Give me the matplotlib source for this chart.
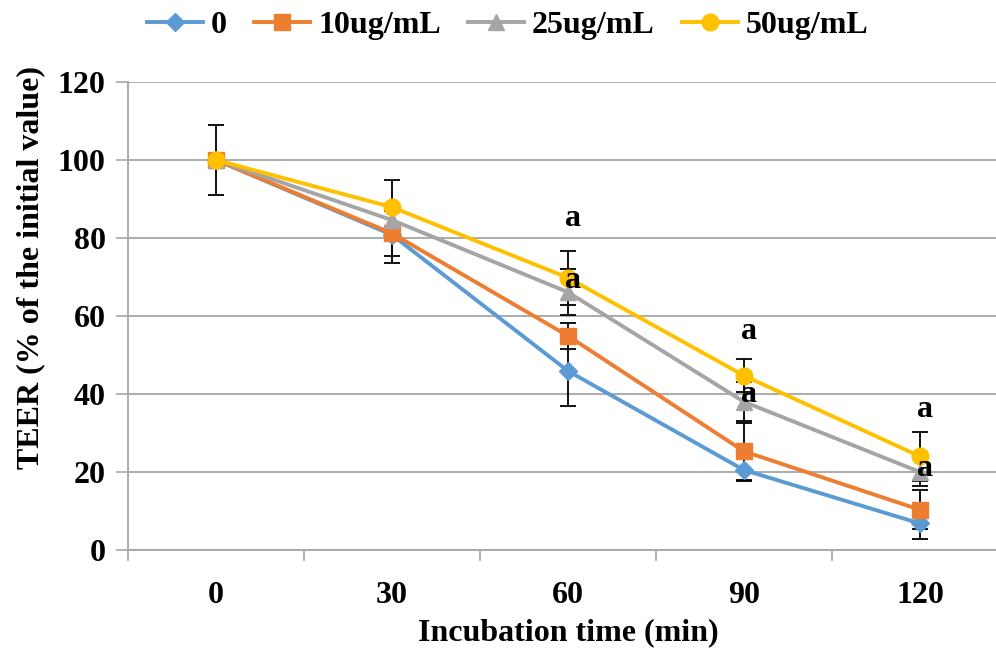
import numpy as np
import matplotlib
matplotlib.use("Agg")
import matplotlib.pyplot as plt

plt.rcParams['font.family'] = ['Liberation Serif', 'DejaVu Serif']
plt.rcParams['font.weight'] = 'bold'

times = ['0', '30', '60', '90', '120']
labels = ['0', '10ug/mL', '25ug/mL', '50ug/mL']
teer = [
    [100, 80.8, 45.9, 20.5, 6.8],
    [100, 81.2, 54.9, 25.3, 10.3],
    [100, 84.6, 66.1, 38.0, 20.0],
    [100, 87.9, 69.8, 44.7, 24.0],
]
errs = [
    [9.0, 7.3, 9.0, 2.8, 4.0],
    [0.0, 5.7, 3.4, 7.3, 5.0],
    [0.0, 4.0, 5.9, 5.0, 3.6],
    [0.0, 7.0, 6.9, 4.3, 6.3],
]
colors = ['#5B9BD5', '#ED7D31', '#A5A5A5', '#FFC000']
markers = ['D', 's', '^', 'o']
msizes = [9, 11, 11, 12]

# significance letters: (time index, y)
sig_x = [2, 2, 3, 3, 4, 4]
sig_y = [85, 69, 56, 40, 36, 21]

fig = plt.figure(figsize=(9.96, 6.51), dpi=100)
ax = fig.add_axes([128/996, 1 - 550/651, 880/996, 468/651])

x = np.arange(len(times))
for i in range(4):
    ax.errorbar(x, teer[i], yerr=errs[i], fmt='none', ecolor='black',
                elinewidth=1.3, capsize=6, capthick=1.3, zorder=2)
for i in range(4):
    ax.plot(x, teer[i], color=colors[i], marker=markers[i], markersize=msizes[i],
            linewidth=2.8, label=labels[i], zorder=3 + i)

for xi, yi in zip(sig_x, sig_y):
    ax.text(xi + 0.03, yi, 'a', ha='center', va='center', fontsize=23,
            fontweight='bold', zorder=10)

ax.set_xlim(-0.5, 4.5)
ax.set_ylim(0, 120)
ax.set_yticks(range(0, 121, 20))
ax.set_xticks(x)
ax.set_xticklabels(times)
ax.set_xticks(np.arange(-0.5, 4.6, 1), minor=True)
ax.tick_params(axis='x', which='major', length=0, pad=22, labelsize=23)
ax.tick_params(axis='x', which='minor', length=8, color='#A6A6A6', width=1.2)
ax.tick_params(axis='y', length=9, color='#A6A6A6', width=1.2, pad=7, labelsize=23)

ax.grid(axis='y', color='#A6A6A6', linewidth=1.3)
ax.set_axisbelow(True)
for s in ['top', 'right']:
    ax.spines[s].set_visible(False)
for s in ['left', 'bottom']:
    ax.spines[s].set_color('#A6A6A6')
    ax.spines[s].set_linewidth(1.3)

ax.set_xlabel('Incubation time (min)', fontsize=23, fontweight='bold', labelpad=6)
ax.set_ylabel('TEER (% of the initial value)', fontsize=23, fontweight='bold')
ax.yaxis.set_label_coords(-0.094, 0.603)

leg = fig.legend(loc='upper center', bbox_to_anchor=(0.51, 1.028), ncol=4, frameon=False,
                 fontsize=23, handlelength=1.75, columnspacing=0.85, handletextpad=0.25)

fig.savefig('out.png', dpi=100)
